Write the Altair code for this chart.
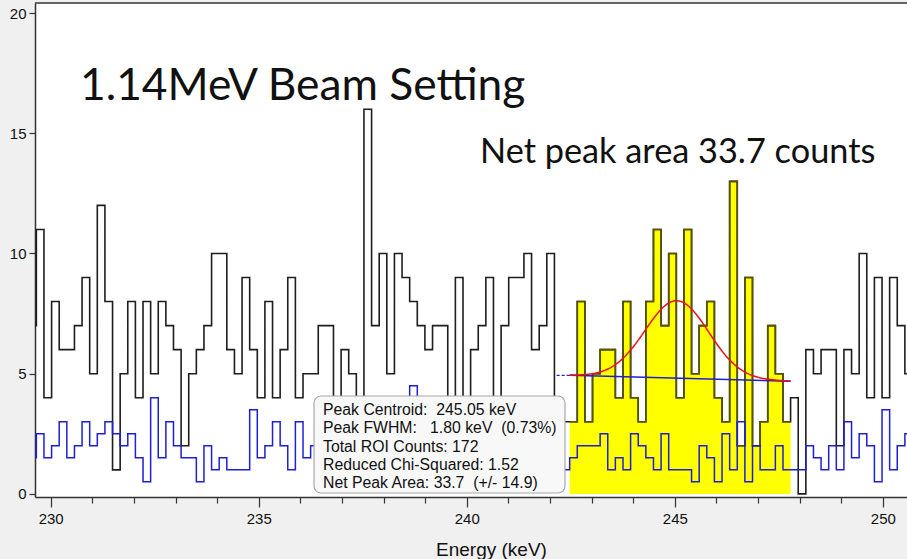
import altair as alt
import numpy as np
import pandas as pd

# Spectrum calibration: low edge of the first channel and channel width (keV)
E_START = 229.4725
KEV_PER_CH = 0.1831

# Counts per channel (foreground spectrum)
counts = [
    7, 11, 4, 8, 6, 6, 7, 9, 5, 12, 8, 1, 5, 8, 4, 8, 5, 8, 7, 6,
    2, 5, 6, 7, 10, 10, 6, 5, 9, 6, 4, 8, 4, 6, 9, 4, 5, 5, 7, 7,
    3, 6, 5, 2, 16, 7, 10, 5, 10, 9, 8, 7, 6, 7, 7, 3, 9, 4, 6, 7,
    9, 3, 7, 9, 9, 10, 6, 7, 10, 4, 3, 3, 8, 3, 5, 6, 6, 4, 8, 4,
    3, 8, 11, 7, 10, 4, 11, 5, 7, 8, 4, 3, 13, 2, 9, 2, 3, 7, 5, 3,
    4, 0, 6, 5, 6, 6, 2, 6, 5, 10, 4, 9, 4, 9, 7, 5,
]

# Scaled background spectrum
background = [
    1.5, 2.5, 1.5, 2, 3, 1.5, 2, 3, 2, 2.5, 3, 2.5, 2, 2.5, 1.5, 0.5, 4, 1.5, 3, 2,
    1.5, 1.5, 0.5, 2, 1, 1.5, 1, 1, 1, 3.5, 1.5, 2, 3, 2, 1, 3, 1.5, 2, 2, 1.5,
    2.5, 1, 2, 1.5, 3, 2, 1, 2, 1.5, 2.5, 4.5, 2, 1.5, 1, 2, 2.5, 1.5, 1, 2, 3,
    1.5, 2, 1, 2.5, 1.5, 2, 1, 2, 1.5, 2, 1, 1.5, 2, 2, 2, 2.5, 1, 1.5, 1, 2.5,
    2, 1.5, 1, 2.5, 1, 1, 1, 0.5, 2, 1.5, 0.5, 2.5, 1, 3, 0.5, 2, 1, 1, 2, 1,
    1, 1, 2, 1.5, 1, 2, 1, 3, 1.5, 2.5, 2, 0.5, 3.5, 1, 2, 2.5,
]

# Region of interest (channel indices, inclusive)
ROI_FIRST, ROI_LAST = 71, 99

# Peak fit results
CENTROID = 245.05
FWHM = 1.80
NET_AREA = 33.7
BASE_LEFT, BASE_RIGHT = 4.93, 4.69
BASE_DASH_START = 242.16

X_DOMAIN = [229.623, 250.58]
Y_DOMAIN = [-0.13, 20.42]
W, H = 872, 494

info_lines = [
    "Peak Centroid:\u00a0 245.05 keV",
    "Peak FWHM:\u00a0\u00a0 1.80 keV\u00a0 (0.73%)",
    "Total ROI Counts: 172",
    "Reduced Chi-Squared: 1.52",
    "Net Peak Area: 33.7\u00a0 (+/- 14.9)",
]


def step_frame(values, first=0):
    n = len(values)
    e = [E_START + (first + i) * KEV_PER_CH for i in range(n + 1)]
    v = list(values) + [values[-1]]
    return pd.DataFrame({"energy": e, "value": v})


spec_df = step_frame(counts)
bg_df = step_frame(background)
roi_df = step_frame(counts[ROI_FIRST:ROI_LAST + 1], ROI_FIRST)

roi_lo = E_START + ROI_FIRST * KEV_PER_CH
roi_hi = E_START + (ROI_LAST + 1) * KEV_PER_CH

# Linear background under the peak and the Gaussian fit on top of it
sigma = FWHM / (2 * np.sqrt(2 * np.log(2)))
amp = NET_AREA * KEV_PER_CH / (sigma * np.sqrt(2 * np.pi))
xf = np.linspace(roi_lo, roi_hi, 200)
base = BASE_LEFT + (BASE_RIGHT - BASE_LEFT) * (xf - roi_lo) / (roi_hi - roi_lo)
fit_df = pd.DataFrame({"energy": xf, "value": base + amp * np.exp(-0.5 * ((xf - CENTROID) / sigma) ** 2)})
base_df = pd.DataFrame({"energy": [roi_lo, roi_hi], "value": [BASE_LEFT, BASE_RIGHT]})
dash_df = pd.DataFrame({"energy": [BASE_DASH_START, roi_lo], "value": [BASE_LEFT, BASE_LEFT]})

x_scale = alt.Scale(domain=X_DOMAIN, nice=False, zero=False)
y_scale = alt.Scale(domain=Y_DOMAIN, nice=False, zero=False)

x_enc = alt.X(
    "energy:Q",
    scale=x_scale,
    axis=alt.Axis(
        values=list(range(230, 251)),
        labelExpr="datum.value % 5 === 0 ? datum.label : ''",
        tickSize=alt.condition("datum.value % 5 === 0", alt.value(10), alt.value(6)),
        title="Energy (keV)",
        titleX=456,
        titleY=58,
        titleBaseline="alphabetic",
        grid=False,
        labelPadding=4,
    ),
)
y_enc = alt.Y(
    "value:Q",
    scale=y_scale,
    axis=alt.Axis(values=[0, 5, 10, 15, 20], tickSize=6, title=None, grid=False, labelPadding=3),
)
x_plain = alt.X("energy:Q", scale=x_scale)
y_plain = alt.Y("value:Q", scale=y_scale)

roi_area = alt.Chart(roi_df).mark_area(
    interpolate="step-after", color="#ffff00", clip=True
).encode(x=x_enc, y=y_enc, y2=alt.datum(0))

roi_edge = alt.Chart(roi_df).mark_line(
    interpolate="step-after", color="#555500", strokeWidth=1.6, clip=True
).encode(x=x_plain, y=y_plain)

spec_line = alt.Chart(spec_df).mark_line(
    interpolate="step-after", color="#1e1e1e", strokeWidth=1.6, clip=True
).encode(x=x_plain, y=y_plain)

bg_line = alt.Chart(bg_df).mark_line(
    interpolate="step-after", color="#1f1fd6", strokeWidth=1.5, clip=True
).encode(x=x_plain, y=y_plain)

dash_line = alt.Chart(dash_df).mark_line(
    color="#1f1fd6", strokeWidth=1.2, strokeDash=[3, 2]
).encode(x=x_plain, y=y_plain)

base_line = alt.Chart(base_df).mark_line(color="#1f1fd6", strokeWidth=1.5).encode(
    x=x_plain, y=y_plain
)

fit_line = alt.Chart(fit_df).mark_line(color="#ee1111", strokeWidth=1.5).encode(
    x=x_plain, y=y_plain
)

top_rule = alt.Chart().mark_rule(color="#333333", strokeWidth=1.5).encode(
    x=alt.value(0), x2=alt.value(W), y=alt.value(0)
)

box = alt.Chart().mark_rect(
    fill="#f8f8f8", stroke="#a8a8a8", strokeWidth=1.2, cornerRadius=7
).encode(x=alt.value(279), x2=alt.value(530), y=alt.value(393), y2=alt.value(490))

info_text = alt.Chart().mark_text(
    align="left", baseline="middle", font="Liberation Sans", fontSize=15.8,
    color="#111111", lineBreak="\n", lineHeight=18.3,
).encode(x=alt.value(288), y=alt.value(407), text=alt.value("\n".join(info_lines)))

title_big = alt.Chart().mark_text(
    align="left", baseline="alphabetic", font="Lato", fontSize=44.3, color="#111111"
).encode(x=alt.value(45), y=alt.value(97), text=alt.value("1.14MeV Beam Setting"))

title_small = alt.Chart().mark_text(
    align="left", baseline="alphabetic", font="Lato", fontSize=34.3, color="#111111"
).encode(x=alt.value(445), y=alt.value(160), text=alt.value("Net peak area 33.7 counts"))

chart = alt.layer(
    roi_area, spec_line, roi_edge, bg_line, dash_line, base_line, fit_line,
    top_rule, box, info_text, title_big, title_small,
).properties(
    width=W,
    height=H,
    autosize=alt.AutoSizeParams(type="none"),
    padding={"left": 35, "top": 3, "right": 0, "bottom": 62},
    background="#f0f0f0",
).configure_view(
    stroke=None, fill="white"
).configure_axis(
    domainColor="#333333",
    domainWidth=1.5,
    tickColor="#333333",
    tickWidth=1.2,
    labelFont="Liberation Sans",
    labelFontSize=15,
    labelColor="#111111",
    titleFont="Liberation Sans",
    titleFontSize=19,
    titleFontWeight="normal",
    titleColor="#111111",
)

chart.save("out.html", embed_options={"renderer": "svg", "actions": False})
